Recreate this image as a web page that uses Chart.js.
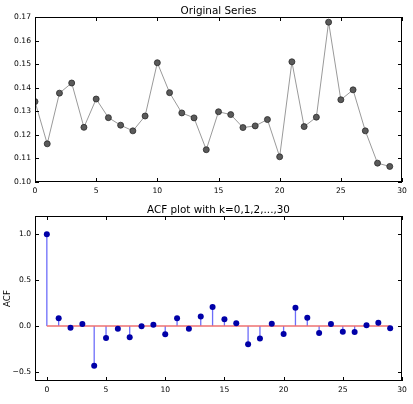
<!DOCTYPE html>
<html>
<head>
<meta charset="utf-8">
<script src="https://cdn.jsdelivr.net/npm/chart.js@4"></script>
<style>
  body { margin: 0; background: #fff; }
  canvas { position: absolute; left: 0; }
  #top { top: 0; }
  #acf { top: 200px; }
</style>
</head>
<body>
<canvas id="top" width="413" height="200"></canvas>
<canvas id="acf" width="413" height="204"></canvas>
<script>
const lags = [0, 1, 2, 3, 4, 5, 6, 7, 8, 9, 10, 11, 12, 13, 14, 15, 16, 17, 18, 19, 20, 21, 22, 23, 24, 25, 26, 27, 28, 29];
const series = [0.1341, 0.1162, 0.1377, 0.1420, 0.1232, 0.1352, 0.1273, 0.1241, 0.1217, 0.1280,
                0.1506, 0.1379, 0.1293, 0.1272, 0.1137, 0.1298, 0.1286, 0.1231, 0.1238, 0.1265,
                0.1107, 0.1510, 0.1235, 0.1275, 0.1678, 0.1349, 0.1391, 0.1217, 0.1080, 0.1066];
const acf = [1.0, 0.084, -0.018, 0.022, -0.433, -0.131, -0.029, -0.124, -0.002, 0.015,
             -0.091, 0.084, -0.029, 0.105, 0.207, 0.073, 0.029, -0.200, -0.135, 0.025,
             -0.087, 0.200, 0.091, -0.076, 0.022, -0.062, -0.065, 0.007, 0.036, -0.025];
const topXTicks = [0, 5, 10, 15, 20, 25, 30];
const topYTicks = [0.10, 0.11, 0.12, 0.13, 0.14, 0.15, 0.16, 0.17];
const acfXTicks = [0, 5, 10, 15, 20, 25, 30];
const acfYTicks = [-0.5, 0.0, 0.5, 1.0];

const FONT = "'DejaVu Sans', sans-serif";

// box round the plot + inward ticks on all four sides + title
const frame = {
  id: 'frame',
  afterDraw(chart, args, opts) {
    const { ctx, chartArea: a, scales: { x, y } } = chart;
    ctx.save();
    ctx.strokeStyle = '#000';
    ctx.lineWidth = 1;
    ctx.strokeRect(a.left + 0.5, a.top + 0.5, a.right - a.left - 1, a.bottom - a.top - 1);
    ctx.beginPath();
    x.ticks.forEach(t => {
      const px = Math.round(x.getPixelForValue(t.value)) + 0.5;
      ctx.moveTo(px, a.bottom); ctx.lineTo(px, a.bottom - 4);
      ctx.moveTo(px, a.top); ctx.lineTo(px, a.top + 4);
    });
    y.ticks.forEach(t => {
      const py = Math.round(y.getPixelForValue(t.value)) + 0.5;
      ctx.moveTo(a.left, py); ctx.lineTo(a.left + 4, py);
      ctx.moveTo(a.right, py); ctx.lineTo(a.right - 4, py);
    });
    ctx.stroke();
    ctx.fillStyle = '#000';
    ctx.font = '10.4px ' + FONT;
    ctx.textAlign = 'center';
    ctx.textBaseline = 'alphabetic';
    ctx.fillText(opts.title, (a.left + a.right) / 2, a.top - 3);
    if (opts.ylabel) {
      ctx.font = '8.7px ' + FONT;
      ctx.translate(10, (a.top + a.bottom) / 2);
      ctx.rotate(-Math.PI / 2);
      ctx.fillText(opts.ylabel, 0, 0);
    }
    ctx.restore();
  }
};

function axis(min, max, ticks, fmt, fit, isX) {
  return {
    type: 'linear',
    min: min, max: max,
    afterBuildTicks: s => { s.ticks = ticks.map(v => ({ value: v })); },
    afterFit: s => { if (isX) s.height = fit; else s.width = fit; },
    grid: { display: false, drawTicks: false },
    border: { display: false },
    ticks: {
      color: '#000',
      font: { family: FONT, size: 7.6 },
      padding: 4,
      maxRotation: 0,
      autoSkip: false,
      callback: fmt
    }
  };
}

new Chart(document.getElementById('top'), {
  type: 'line',
  data: {
    datasets: [{
      data: lags.map((k, i) => ({ x: k, y: series[i] })),
      borderColor: '#9a9a9a',
      borderWidth: 1,
      pointRadius: 3,
      pointBackgroundColor: '#5a5a5a',
      pointBorderColor: '#2a2a2a',
      pointBorderWidth: 0.8,
      tension: 0,
      clip: 0
    }]
  },
  options: {
    responsive: false,
    animation: false,
    layout: { padding: { top: 17, right: 11, left: 0, bottom: 0 } },
    plugins: { legend: { display: false }, tooltip: { enabled: false }, frame: { title: 'Original Series' } },
    scales: {
      x: axis(0, 30, topXTicks, v => String(v), 18, true),
      y: axis(0.10, 0.17, topYTicks, v => v.toFixed(2), 35, false)
    }
  },
  plugins: [frame]
});

const stems = [];
lags.forEach((k, i) => {
  stems.push({ x: k, y: 0 }, { x: k, y: acf[i] }, { x: k, y: null });
});

new Chart(document.getElementById('acf'), {
  type: 'line',
  data: {
    datasets: [
      {
        data: lags.map((k, i) => ({ x: k, y: acf[i] })),
        showLine: false,
        pointRadius: 3,
        pointBackgroundColor: '#0000a8',
        pointBorderColor: '#0000a8',
        pointBorderWidth: 0,
        order: 0
      },
      {
        data: [{ x: lags[0], y: 0 }, { x: lags[lags.length - 1], y: 0 }],
        borderColor: '#ee7070',
        borderWidth: 1.5,
        pointRadius: 0,
        order: 1
      },
      {
        data: stems,
        borderColor: 'rgba(20,20,245,0.62)',
        borderWidth: 1.3,
        pointRadius: 0,
        spanGaps: false,
        order: 2
      }
    ]
  },
  options: {
    responsive: false,
    animation: false,
    layout: { padding: { top: 16, right: 11, left: 0, bottom: 0 } },
    plugins: { legend: { display: false }, tooltip: { enabled: false }, frame: { title: 'ACF plot with k=0,1,2,...,30', ylabel: 'ACF' } },
    scales: {
      x: axis(-1, 30, acfXTicks, v => String(v), 23, true),
      y: axis(-0.6, 1.2, acfYTicks, v => v.toFixed(1).replace('-', '\u2212'), 35, false)
    }
  },
  plugins: [frame]
});
</script>
</body>
</html>
